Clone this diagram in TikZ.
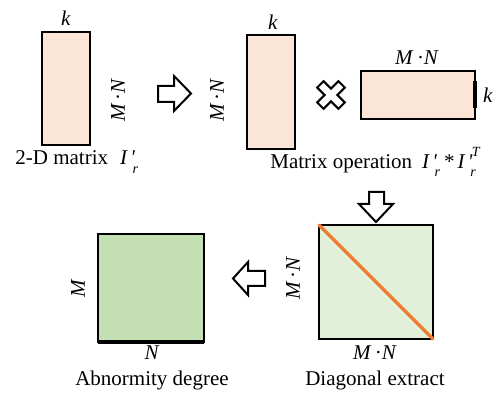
\documentclass[tikz,border=0pt]{standalone}
\usepackage{fontspec}
\setmainfont{Liberation Serif}
\definecolor{pinkfill}{HTML}{FBE5D6}
\definecolor{lightgreen}{HTML}{E2F0D9}
\definecolor{midgreen}{HTML}{C5E0B4}
\definecolor{diagorange}{HTML}{ED7D31}
\newcommand\Ipr{\textit{I}\kern1.2pt\textit{\textquotesingle}\kern-1.2pt\raisebox{-0.9ex}{\scriptsize\textit{r}}}
\newcommand\IprT{\textit{I}\kern1.2pt\textit{\textquotesingle}\kern-1.2pt\rlap{\raisebox{-0.9ex}{\scriptsize\textit{r}}}\kern0.8pt\raisebox{1.2ex}{\scriptsize\textit{T}}}
\tikzset{
  matbox/.style={draw=black, line width=1pt, outer sep=0pt, inner sep=0pt},
  blockarrow/.style={draw=black, fill=white, line width=1pt, line join=miter},
  lbl/.style={inner sep=1pt, font=\fontsize{10.5pt}{12pt}\selectfont},
}
\begin{document}
\begin{tikzpicture}[x=0.5pt,y=-0.5pt]
\useasboundingbox (0,0) rectangle (497,394);
% matrices
\node (r1) [matbox, fill=pinkfill, minimum width=24pt, minimum height=56.5pt] at (66,88.5) {};
\node (r2) [matbox, fill=pinkfill, minimum width=24pt, minimum height=57pt] at (271,92) {};
\node (r3) [matbox, fill=pinkfill, minimum width=57pt, minimum height=24pt] at (418,95) {};
\draw[line width=2.2pt] ([yshift=6.75pt]r3.east) -- ([yshift=-6.75pt]r3.east);
\node (sq4) [matbox, fill=lightgreen, minimum width=57pt, minimum height=57pt] at (376,282) {};
\draw[diagorange, line width=1.6pt, line cap=round] (sq4.north west) -- (sq4.south east);
\node (sq5) [matbox, fill=midgreen, minimum width=53pt, minimum height=54pt] at (151,288) {};
\draw[line width=1.6pt] (sq5.south west) -- (sq5.south east);
% labels
\node (k1) [lbl] at (66,18) {\textit{k}};
\node (mn1) [lbl, rotate=90] at (118,100) {\textit{M}\,·\textit{N}};
\node (mn2) [lbl, rotate=90] at (217,100) {\textit{M}\,·\textit{N}};
\node (k2) [lbl] at (273,22) {\textit{k}};
\node (mn3) [lbl] at (417,58) {\textit{M}\,·\textit{N}};
\node (k3) [lbl] at (488,95) {\textit{k}};
\node (cap1) [lbl, anchor=west] at (13,162) {2-D matrix\hspace{6pt}\Ipr};
\node (cap2) [lbl, anchor=west] at (268,162) {Matrix operation\hspace{5pt}\Ipr\kern2pt*\kern1.5pt\IprT};
\node (mn4) [lbl, rotate=90] at (293,278) {\textit{M}\,·\textit{N}};
\node (mn5) [lbl] at (375,353) {\textit{M}\,·\textit{N}};
\node (cap3) [lbl] at (375,380) {Diagonal extract};
\node (m5) [lbl, rotate=90] at (78,288) {\textit{M}};
\node (n5) [lbl] at (152,353) {\textit{N}};
\node (cap4) [lbl] at (152,380) {Abnormity degree};
% block arrows
\draw[blockarrow] (158,86) -- (174,86) -- (174,76) -- (191,93.5) -- (174,111) -- (174,102) -- (158,102) -- cycle;
\draw[blockarrow] (265,271) -- (248,271) -- (248,262) -- (233,278.5) -- (248,295) -- (248,286) -- (265,286) -- cycle;
\draw[blockarrow] (369,192) -- (384,192) -- (384,204) -- (393,204) -- (376,222) -- (359,204) -- (369,204) -- cycle;
% multiplication cross
\begin{scope}[shift={(331,95)}, rotate=45]
\draw[blockarrow] (4.5,15) -- (4.5,4.5) -- (15,4.5) -- (15,-4.5) -- (4.5,-4.5) -- (4.5,-15) -- (-4.5,-15) -- (-4.5,-4.5) -- (-15,-4.5) -- (-15,4.5) -- (-4.5,4.5) -- (-4.5,15) -- cycle;
\end{scope}
\end{tikzpicture}
\end{document}
